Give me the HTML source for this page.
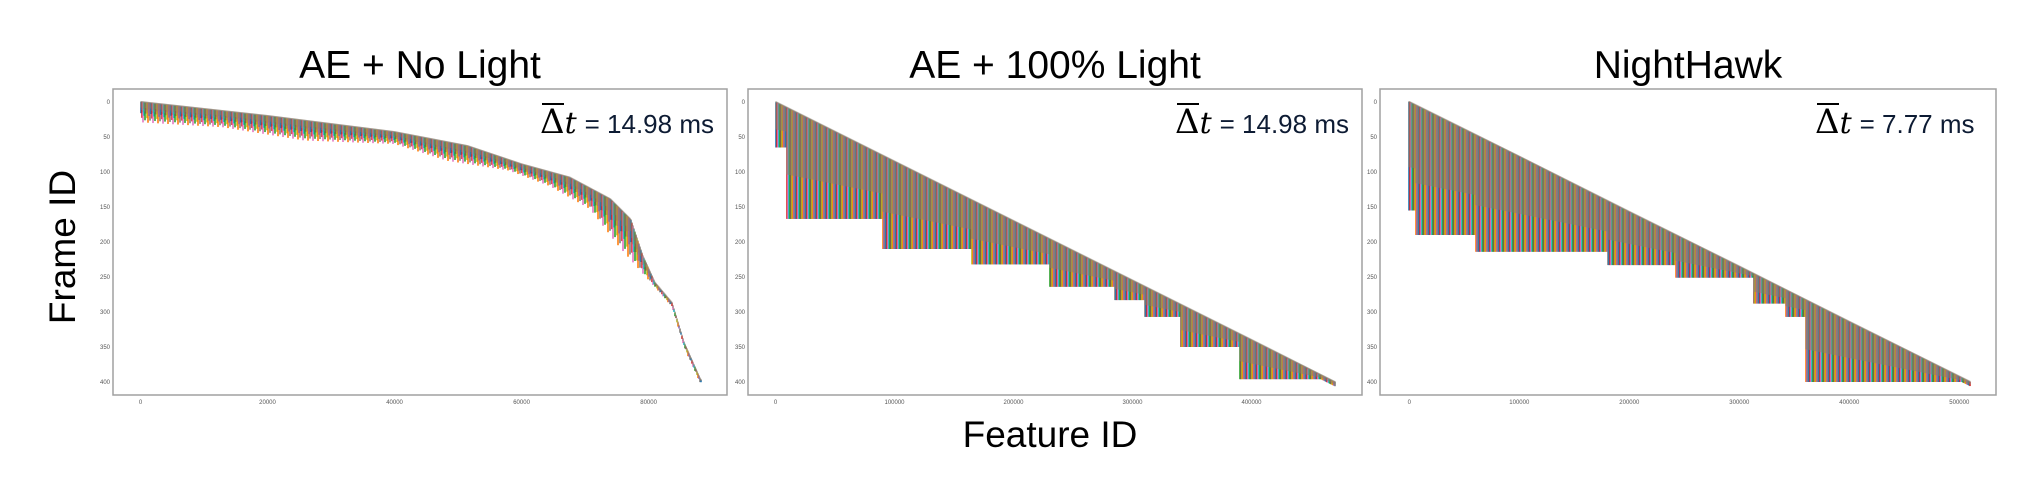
<!DOCTYPE html>
<html><head><meta charset="utf-8"><style>
html,body{margin:0;padding:0;background:#fff;}
svg{display:block;font-family:"Liberation Sans",sans-serif;}
</style></head><body>
<svg id="fig" width="2037" height="496" viewBox="0 0 2037 496">
<text x="65" y="247" font-size="37" text-anchor="middle" transform="rotate(-90 65 247)" dominant-baseline="middle">Frame ID</text>
<text x="1050" y="447" font-size="37" text-anchor="middle">Feature ID</text>
</svg>
<script>
// ----- data (feature id, frame) -----
const p1Ids = [0, 20000, 40000, 51500, 60000, 67600, 74000, 77200, 79100, 81000, 83700, 85600, 88200];
const p1Top = [0, 20, 43, 63, 89, 108, 139, 168, 220, 258, 287, 344, 397];
const p1BotIds = [0, 12900, 25800, 40000, 48300, 58000, 64400, 70800, 75300, 78500, 83700, 86200, 88200];
const p1Bot = [29, 36, 55, 60, 84, 98, 120, 153, 206, 239, 292, 363, 400];

const p2Ids = [0, 100000, 200000, 300000, 400000, 470000];
const p2Top = [0, 85, 170, 255, 340, 400];
const p2StepEnd = [9000, 90000, 165000, 230000, 285000, 310000, 340000, 390000, 470000];
const p2StepVal = [65, 167, 210, 232, 264, 283, 307, 350, 396];

const p3Ids = [0, 100000, 200000, 300000, 400000, 510000];
const p3Top = [0, 78, 157, 235, 314, 400];
const p3StepEnd = [6000, 60000, 180000, 242000, 313000, 342000, 360000, 478000, 510000];
const p3StepVal = [155, 190, 214, 233, 251, 288, 307, 400, 400];

const titles = ["AE + No Light", "AE + 100% Light", "NightHawk"];
const dtVals = ["14.98", "14.98", "7.77"];
const yTicks = [0, 50, 100, 150, 200, 250, 300, 350, 400];
const xTicks1 = [0, 20000, 40000, 60000, 80000];
const xTicks2 = [0, 100000, 200000, 300000, 400000];
const xTicks3 = [0, 100000, 200000, 300000, 400000, 500000];

const NS = "http://www.w3.org/2000/svg";
const svg = document.getElementById('fig');
const tab10 = ["#1f77b4","#ff7f0e","#2ca02c","#d62728","#9467bd","#8c564b","#e377c2","#7f7f7f","#bcbd22","#17becf"];
function mk(tag, attrs, parent){const e=document.createElementNS(NS,tag);for(const k in attrs)e.setAttribute(k,attrs[k]);(parent||svg).appendChild(e);return e;}
function interp(xs, ys, x){
  if(x<=xs[0])return ys[0];
  for(let i=1;i<xs.length;i++){if(x<=xs[i]){const t=(x-xs[i-1])/(xs[i]-xs[i-1]);return ys[i-1]+t*(ys[i]-ys[i-1]);}}
  return ys[ys.length-1];
}
function step(ends, vals, x){for(let i=0;i<ends.length;i++){if(x<=ends[i])return vals[i];}return vals[vals.length-1];}
const yOf = f => 102 + f*0.7;

const panels = [
  {L:113,R:727,x0:140.5,ppu:(648.6-140.5)/80000,ids:p1Ids,top:p1Top,bot:x=>interp(p1BotIds,p1Bot,x),max:88200,ticks:xTicks1,tx:540,band:0.5,name:'panel-ae-no-light'},
  {L:748,R:1362,x0:775.5,ppu:119/100000,ids:p2Ids,top:p2Top,bot:x=>step(p2StepEnd,p2StepVal,x),max:470000,ticks:xTicks2,tx:1175,band:0.6,name:'panel-ae-100-light'},
  {L:1380,R:1996,x0:1409.3,ppu:110/100000,ids:p3Ids,top:p3Top,bot:x=>step(p3StepEnd,p3StepVal,x),max:510000,ticks:xTicks3,tx:1815,band:0.6,name:'panel-nighthawk'}
];

panels.forEach((p,pi)=>{
  const g = mk('g',{});
  
  
  const t = mk('text',{x:(p.L+p.R)/2,y:78,'font-size':39,'text-anchor':'middle'},g);
  t.textContent = titles[pi];
  
  
  const xs = v => p.x0 + v*p.ppu;
  const x1 = Math.round(xs(p.max));
  let ci = 0;
  for(let px=Math.round(p.x0); px<=x1; px++){
    const id = (px - p.x0)/p.ppu;
    const top = interp(p.ids, p.top, id);
    let bot = Math.max(p.bot(id), top+6);
    if(pi===0){ bot = top + (bot-top)*(0.55 + 0.45*((ci*7)%5)/4); }
    const ln = mk('line',{x1:px,x2:px,y1:yOf(top),y2:yOf(bot),stroke:tab10[(ci*3)%10],'stroke-width':1.6},g);
    
    
    const bEnd = top + (bot-top)*p.band;
    const band = mk('line',{x1:px,x2:px,y1:yOf(top)-1,y2:yOf(bEnd),stroke:'#8a7e6e','stroke-width':1.2,'stroke-opacity':0.75},g);
    
    
    ci++;
  }
  const fr = mk('rect',{x:p.L,y:89,width:p.R-p.L,height:306,fill:'none',stroke:'#a0a0a0','stroke-width':1.5},g);
  
  
  yTicks.forEach(v=>{
    const tl = mk('text',{x:p.L-3,y:yOf(v)+2,'font-size':6,'text-anchor':'end',fill:'#555'},g);
    tl.textContent = v;
    
    
  });
  p.ticks.forEach(v=>{
    const tl = mk('text',{x:xs(v),y:404,'font-size':6,'text-anchor':'middle',fill:'#555'},g);
    tl.textContent = v;
    
    
  });
  const a = mk('text',{x:p.tx,y:133,'font-size':26,fill:'#0d1b33'},g);
  
  
  const s1 = mk('tspan',{'font-family':'DejaVu Serif, serif','font-size':34,fill:'#000'},a); s1.textContent='Δ';
  const s2 = mk('tspan',{'font-family':'DejaVu Serif, serif','font-style':'italic','font-size':30,fill:'#000'},a); s2.textContent='t';
  const s3 = mk('tspan',{dx:8},a); s3.textContent='= '+dtVals[pi]+' ms';
  const ol = mk('line',{x1:p.tx+2,x2:p.tx+24,y1:104,y2:104,stroke:'#000','stroke-width':2},g);
  
  
});
</script>
</body></html>
